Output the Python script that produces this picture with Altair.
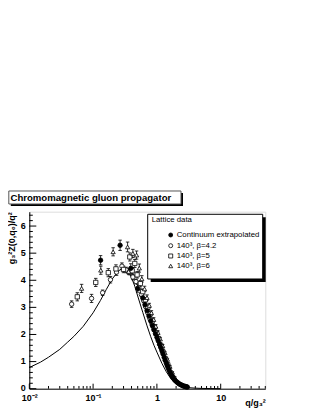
import altair as alt
import pandas as pd

# ---------------- data ----------------
title_text = "Chromomagnetic gluon propagator"
legend_header = "Lattice data"
series_names = ["Continuum extrapolated", "140³, β=4.2", "140³, β=5", "140³, β=6"]

cont_q = [0.131, 0.265, 0.39, 0.50, 0.6, 0.65, 0.7, 0.75, 0.8, 0.85, 0.9, 0.95, 1.0, 1.05,
          1.1, 1.15, 1.2, 1.25, 1.3, 1.35, 1.4, 1.45, 1.5, 1.55, 1.6, 1.65, 1.7, 1.75, 1.8,
          1.9, 2.0, 2.1, 2.2, 2.3, 2.4, 2.5, 2.6, 2.7, 2.8, 2.9, 3.0]
cont_v = [4.74, 5.29, 4.44, 3.70, 3.35, 3.10, 2.88, 2.68, 2.50, 2.33, 2.17, 2.03, 1.90, 1.77,
          1.64, 1.52, 1.40, 1.28, 1.16, 1.05, 0.95, 0.86, 0.77, 0.69, 0.62, 0.55, 0.49, 0.44,
          0.39, 0.32, 0.27, 0.23, 0.19, 0.16, 0.14, 0.12, 0.10, 0.09, 0.08, 0.07, 0.06]
cont_e = [0.17, 0.19, 0.17, 0.14, 0.10, 0.10, 0.08, 0.08, 0.07, 0.07, 0.06, 0.06, 0.05, 0.05,
          0.05, 0.05, 0.04, 0.04, 0.04, 0.04, 0.03, 0.03, 0.03, 0.03, 0.03, 0.02, 0.02, 0.02,
          0.02, 0.02, 0.02, 0.02, 0.02, 0.01, 0.01, 0.01, 0.01, 0.01, 0.01, 0.01, 0.01]

b42_q = [0.0461, 0.0946, 0.141, 0.187, 0.233, 0.283, 0.33, 0.37, 0.42, 0.47, 0.52, 0.57, 0.62,
         0.67, 0.72, 0.78, 0.84, 0.9, 0.97, 1.04, 1.12, 1.2]
b42_v = [3.12, 3.33, 3.54, 4.02, 4.30, 4.52, 4.38, 4.30, 4.12, 3.95, 3.72, 3.48, 3.25,
         3.02, 2.80, 2.57, 2.38, 2.20, 2.02, 1.83, 1.63, 1.45]
b42_e = [0.12, 0.15, 0.10, 0.12, 0.12, 0.12, 0.10, 0.10, 0.10, 0.08, 0.08, 0.07, 0.07,
         0.06, 0.06, 0.05, 0.05, 0.05, 0.04, 0.04, 0.04, 0.04]

b5_q = [0.0565, 0.11, 0.173, 0.228, 0.30, 0.376, 0.41, 0.45, 0.49, 0.55, 0.6, 0.66, 0.72,
        0.78, 0.84, 0.91, 0.98, 1.06, 1.15, 1.25, 1.36, 1.48]
b5_v = [3.39, 3.92, 4.28, 4.42, 4.40, 4.86, 4.35, 4.62, 4.20, 3.88, 3.58, 3.28, 3.00,
        2.75, 2.50, 2.28, 2.07, 1.85, 1.60, 1.35, 1.10, 0.88]
b5_e = [0.15, 0.15, 0.15, 0.15, 0.12, 0.15, 0.12, 0.15, 0.12, 0.10, 0.10, 0.08, 0.08,
        0.07, 0.06, 0.06, 0.05, 0.05, 0.04, 0.04, 0.04, 0.03]

b6_q = [0.066, 0.132, 0.206, 0.347, 0.42, 0.48, 0.36, 0.53, 0.58, 0.64, 0.7, 0.76, 0.82,
        0.89, 0.96, 1.04, 1.13, 1.23, 1.34, 1.46, 1.6, 1.75, 1.9]
b6_v = [3.70, 4.37, 5.05, 5.23, 4.99, 4.93, 4.32, 4.45, 4.05, 3.68, 3.36, 3.07, 2.80,
        2.55, 2.30, 2.07, 1.83, 1.58, 1.32, 1.08, 0.82, 0.60, 0.42]
b6_e = [0.15, 0.15, 0.15, 0.18, 0.15, 0.15, 0.10, 0.15, 0.12, 0.10, 0.10, 0.08, 0.08,
        0.07, 0.06, 0.06, 0.05, 0.05, 0.04, 0.04, 0.04, 0.03, 0.03]

curve_q = [0.01, 0.015, 0.02, 0.03, 0.04, 0.05, 0.07, 0.1, 0.13, 0.16, 0.2, 0.25, 0.3, 0.35,
           0.4, 0.45, 0.5, 0.6, 0.7, 0.8, 0.9, 1.0, 1.2, 1.4, 1.6, 1.8, 2.0, 2.5, 3.0, 4.0,
           5.0, 7.0, 10.0]
curve_v = [0.78, 0.98, 1.16, 1.45, 1.72, 1.93, 2.30, 2.80, 3.25, 3.65, 4.05, 4.35, 4.45, 4.35,
           4.10, 3.78, 3.42, 2.82, 2.32, 1.92, 1.60, 1.35, 0.93, 0.63, 0.42, 0.28, 0.19, 0.08,
           0.04, 0.02, 0.01, 0.005, 0.0]

x_tick_values = [0.01, 0.1, 1, 10]
x_minor = [m * d for d in [0.01, 0.1, 1, 10] for m in range(2, 10) if m * d <= 50]
y_tick_values = [0, 1, 2, 3, 4, 5, 6]
y_minor = [round(i * 0.2, 1) for i in range(0, 33) if i % 5 != 0]

# ---------------- build ----------------
W, H = 236, 177
FONT = "Liberation Sans"
xs = alt.Scale(type="log", domain=[0.01, 50], nice=False)
ys = alt.Scale(domain=[0, 6.53], nice=False, zero=False)

rows = []
for name, qq, vv, ee in [(series_names[1], b42_q, b42_v, b42_e),
                         (series_names[2], b5_q, b5_v, b5_e),
                         (series_names[3], b6_q, b6_v, b6_e),
                         (series_names[0], cont_q, cont_v, cont_e)]:
    for q, v, e in zip(qq, vv, ee):
        rows.append(dict(series=name, q=q, v=v, lo=v - e, hi=v + e))
pts = pd.DataFrame(rows)
curve_df = pd.DataFrame({"q": curve_q, "v": curve_v})

shape_scale = alt.Scale(domain=series_names, range=["circle", "circle", "square", "triangle-up"])
fill_scale = alt.Scale(domain=series_names, range=["black", "white", "white", "white"])
size_scale = alt.Scale(domain=series_names, range=[20, 18, 20, 22])

x_label_expr = ("datum.value < 0.05 ? '10⁻²' : datum.value < 0.5 ? '10⁻¹' : "
                "datum.value < 5 ? '1' : '10'")

XAX = alt.Axis(
    values=x_tick_values, labelExpr=x_label_expr, ticks=False, grid=False,
    labelFont=FONT, labelFontSize=9, labelFontWeight="bold", labelPadding=5,
    labelColor="black", domainColor="black", labelFlush=False,
    title="q/g₃²", titleFont=FONT, titleFontSize=9, titleFontWeight="bold",
    titleColor="black", titleAnchor="end", titleAlign="right", titleX=W,
    titleY=14, titleBaseline="middle")
YAX = alt.Axis(
    values=y_tick_values, ticks=False, grid=False, labelFont=FONT, labelFontSize=9,
    labelFontWeight="bold", labelPadding=4, labelOffset=-1, labelColor="black",
    domainColor="black",
    title="g₃²Z(0,q₀)/q²", titleFont=FONT, titleFontSize=9, titleFontWeight="bold",
    titleColor="black", titleAnchor="end", titlePadding=4)


def X(f):
    return alt.X(f, scale=xs, axis=XAX)


def Y(f):
    return alt.Y(f, scale=ys, axis=YAX)


curve = alt.Chart(curve_df).mark_line(color="black", strokeWidth=1).encode(
    x=X("q:Q"), y=Y("v:Q"))

bars = alt.Chart(pts).mark_rule(color="black", strokeWidth=0.8).encode(
    x=X("q:Q"), y=Y("lo:Q"), y2="hi:Q")
cap_lo = alt.Chart(pts).mark_point(shape="M-1,0L1,0", size=12, filled=False,
                                   color="black", strokeWidth=0.8, opacity=1).encode(
    x=X("q:Q"), y=Y("lo:Q"))
cap_hi = alt.Chart(pts).mark_point(shape="M-1,0L1,0", size=12, filled=False,
                                   color="black", strokeWidth=0.8, opacity=1).encode(
    x=X("q:Q"), y=Y("hi:Q"))
points = alt.Chart(pts).mark_point(filled=True, stroke="black", strokeWidth=0.8,
                                   opacity=1, fillOpacity=1).encode(
    x=X("q:Q"), y=Y("v:Q"),
    shape=alt.Shape("series:N", scale=shape_scale, legend=None),
    fill=alt.Fill("series:N", scale=fill_scale, legend=None),
    size=alt.Size("series:N", scale=size_scale, legend=None))

# inside ticks
ymaj = alt.Chart(pd.DataFrame({"v": y_tick_values})).mark_rule(color="black", strokeWidth=1).encode(
    y=Y("v:Q"), x=alt.value(0), x2=alt.value(7))
ymin = alt.Chart(pd.DataFrame({"v": y_minor})).mark_rule(color="black", strokeWidth=1).encode(
    y=Y("v:Q"), x=alt.value(0), x2=alt.value(3.5))
xmaj = alt.Chart(pd.DataFrame({"q": x_tick_values})).mark_rule(color="black", strokeWidth=1).encode(
    x=X("q:Q"), y=alt.value(H), y2=alt.value(H - 5))
xmin = alt.Chart(pd.DataFrame({"q": x_minor})).mark_rule(color="black", strokeWidth=1).encode(
    x=X("q:Q"), y=alt.value(H), y2=alt.value(H - 2.7))

one = pd.DataFrame({"a": [0]})


def rect(x1, x2, y1, y2, fill, stroke=None):
    kw = dict(fill=fill)
    if stroke:
        kw.update(stroke=stroke, strokeWidth=1)
    return alt.Chart(one).mark_rect(**kw).encode(
        x=alt.value(x1), x2=alt.value(x2), y=alt.value(y1), y2=alt.value(y2))


def text(t, x, y, size, weight="normal"):
    return alt.Chart(pd.DataFrame({"t": [t]})).mark_text(
        align="left", baseline="middle", font=FONT, fontSize=size, fontWeight=weight,
        color="black").encode(text="t:N", x=alt.value(x), y=alt.value(y))


# title box
tb = [rect(-18.5, 153.7, -18.7, -5.7, "black"),
      rect(-20.5, 151.7, -20.7, -7.7, "white", "#555555"),
      text(title_text, -18.8, -14.0, 9.6, "bold")]

# legend box
lg = [rect(121.4, 236.4, 5.6, 70.3, "black"),
      rect(118.4, 233.4, 2.6, 67.3, "white", "black"),
      text(legend_header, 122.4, 8.8, 7.8)]
row_y = [23.3, 34.0, 44.3, 54.3]
mk_shape = ["circle", "circle", "square", "triangle-up"]
mk_fill = ["black", "white", "white", "white"]
for i, name in enumerate(series_names):
    lg.append(alt.Chart(one).mark_point(shape=mk_shape[i], filled=True, fill=mk_fill[i],
                                         stroke="black", strokeWidth=0.8, size=16,
                                         opacity=1).encode(
        x=alt.value(141.4), y=alt.value(row_y[i])))
    lg.append(text(name, 147.4, row_y[i], 7.8))

chart = alt.layer(curve, bars, cap_lo, cap_hi, points, ymaj, ymin, xmaj, xmin,
                  *tb, *lg).properties(
    width=W, height=H,
    padding={"left": 21.3, "top": 203.7, "right": 40, "bottom": 24},
    autosize=alt.AutoSizeParams(type="none"),
).configure_view(stroke="black", strokeWidth=1).configure(background="white")

chart.save("out.html", embed_options={"renderer": "svg", "actions": False})
